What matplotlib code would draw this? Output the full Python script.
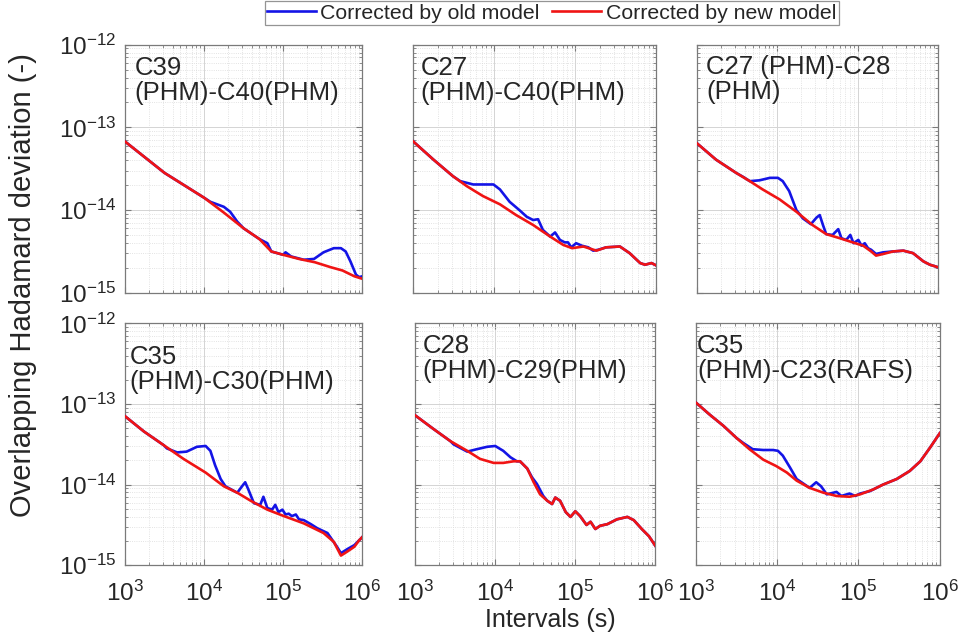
# -*- coding: utf-8 -*-
"""
Desvio de Hadamard sobreposto para seis pares de relógios BDS
Curvas corrigidas pelo modelo antigo (azul) e pelo modelo novo (vermelho)
"""

import numpy as np
import matplotlib
matplotlib.use('Agg')
import matplotlib.pyplot as plt
from matplotlib.lines import Line2D
from matplotlib.ticker import FixedLocator, NullFormatter

# Nome de cada par de satélites (um por painel)
pares = [
    'C39\n(PHM)-C40(PHM)',
    'C27\n(PHM)-C40(PHM)',
    'C27 (PHM)-C28\n(PHM)',
    'C35\n(PHM)-C30(PHM)',
    'C28\n(PHM)-C29(PHM)',
    'C35\n(PHM)-C23(RAFS)',
]

rotulos_legenda = ['Corrected by old model', 'Corrected by new model']

# Décadas marcadas nos eixos
ticks_tau = [1e3, 1e4, 1e5, 1e6]
ticks_dev = [1e-15, 1e-14, 1e-13, 1e-12]

# Todos os valores em log10: intervalo (s) e desvio (-)

# C39(PHM)-C40(PHM)
log_tau_novo_1 = [3.0, 3.5, 4.0, 4.25, 4.5, 4.7, 4.85, 5.0, 5.2, 5.4, 5.6, 5.75, 5.9, 6.0]
log_dev_novo_1 = [-13.17, -13.55, -13.85, -14.03, -14.22, -14.35, -14.50, -14.54, -14.59, -14.63, -14.69, -14.73, -14.80, -14.83]
log_tau_antigo_1 = [3.0, 3.5, 4.0, 4.08, 4.25, 4.33, 4.42, 4.5, 4.7, 4.8, 4.85, 5.0, 5.03, 5.1, 5.26,
                    5.39, 5.51, 5.64, 5.73, 5.79, 5.85, 5.92, 5.96, 6.0]
log_dev_antigo_1 = [-13.17, -13.55, -13.85, -13.90, -13.96, -14.02, -14.14, -14.22, -14.35, -14.40, -14.50, -14.54, -14.51, -14.56, -14.60,
                    -14.59, -14.51, -14.46, -14.46, -14.50, -14.62, -14.78, -14.81, -14.80]

# C27(PHM)-C40(PHM)
log_tau_novo_2 = [3.0, 3.25, 3.49, 3.66, 3.86, 4.07, 4.27, 4.48, 4.69, 4.85, 4.96, 5.10, 5.26, 5.38,
                  5.55, 5.67, 5.80, 5.86, 5.94, 6.0]
log_dev_novo_2 = [-13.17, -13.39, -13.59, -13.71, -13.83, -13.93, -14.06, -14.18, -14.32, -14.42, -14.46, -14.44, -14.49, -14.45,
                  -14.44, -14.52, -14.64, -14.66, -14.64, -14.67]
log_tau_antigo_2 = [3.0, 3.25, 3.49, 3.58, 3.74, 3.86, 3.99, 4.07, 4.19, 4.31, 4.40, 4.48, 4.54, 4.60, 4.69,
                    4.75, 4.81, 4.87, 4.91, 4.95, 5.01, 5.08, 5.16, 5.22, 5.28, 5.38, 5.55, 5.67, 5.80,
                    5.86, 5.94, 6.0]
log_dev_antigo_2 = [-13.17, -13.39, -13.59, -13.65, -13.69, -13.69, -13.69, -13.75, -13.90, -14.00, -14.08, -14.12, -14.11, -14.24, -14.32,
                    -14.27, -14.36, -14.39, -14.39, -14.45, -14.40, -14.43, -14.45, -14.49, -14.48, -14.45, -14.44, -14.52, -14.64,
                    -14.66, -14.64, -14.67]

# C27(PHM)-C28(PHM)
log_tau_novo_3 = [3.0, 3.24, 3.49, 3.66, 3.82, 4.03, 4.24, 4.44, 4.61, 4.78, 4.94, 5.07, 5.17, 5.23,
                  5.32, 5.44, 5.57, 5.69, 5.82, 5.90, 6.0]
log_dev_novo_3 = [-13.19, -13.39, -13.55, -13.65, -13.75, -13.87, -14.02, -14.18, -14.29, -14.34, -14.39, -14.43, -14.50, -14.55,
                  -14.53, -14.50, -14.49, -14.52, -14.62, -14.66, -14.69]
log_tau_antigo_3 = [3.0, 3.24, 3.49, 3.58, 3.66, 3.78, 3.91, 4.01, 4.07, 4.15, 4.24, 4.32, 4.42, 4.49, 4.53,
                    4.57, 4.61, 4.69, 4.76, 4.80, 4.86, 4.91, 4.95, 5.01, 5.05, 5.09, 5.13, 5.17, 5.23,
                    5.32, 5.44, 5.57, 5.69, 5.82, 5.90, 6.0]
log_dev_antigo_3 = [-13.19, -13.39, -13.55, -13.60, -13.65, -13.64, -13.61, -13.61, -13.65, -13.77, -14.00, -14.10, -14.17, -14.09, -14.06,
                    -14.18, -14.29, -14.30, -14.23, -14.34, -14.36, -14.30, -14.40, -14.36, -14.43, -14.40, -14.46, -14.48, -14.53,
                    -14.51, -14.50, -14.49, -14.52, -14.62, -14.66, -14.69]

# C35(PHM)-C30(PHM)
log_tau_novo_4 = [3.0, 3.24, 3.49, 3.74, 4.02, 4.25, 4.42, 4.59, 4.80, 5.01, 5.26, 5.51, 5.64, 5.73,
                  5.81, 5.90, 5.96, 6.0]
log_dev_novo_4 = [-13.15, -13.34, -13.51, -13.68, -13.85, -14.02, -14.10, -14.20, -14.31, -14.39, -14.48, -14.60, -14.71, -14.88,
                  -14.83, -14.77, -14.69, -14.65]
log_tau_antigo_4 = [3.0, 3.24, 3.49, 3.53, 3.66, 3.78, 3.91, 4.02, 4.08, 4.14, 4.21, 4.27, 4.42, 4.48, 4.52,
                    4.56, 4.63, 4.71, 4.75, 4.80, 4.86, 4.90, 4.94, 4.99, 5.03, 5.07, 5.11, 5.16, 5.20,
                    5.26, 5.35, 5.43, 5.56, 5.68, 5.73, 5.81, 5.90, 5.96, 6.0]
log_dev_antigo_4 = [-13.15, -13.34, -13.51, -13.55, -13.60, -13.59, -13.53, -13.52, -13.58, -13.76, -13.93, -14.02, -14.10, -14.02, -13.97,
                    -14.06, -14.23, -14.25, -14.15, -14.29, -14.31, -14.25, -14.34, -14.31, -14.37, -14.36, -14.39, -14.37, -14.43,
                    -14.44, -14.49, -14.54, -14.60, -14.77, -14.85, -14.80, -14.75, -14.69, -14.65]

# C28(PHM)-C29(PHM)
log_tau_novo_5 = [3.0, 3.23, 3.44, 3.65, 3.81, 3.98, 4.10, 4.23, 4.31, 4.40, 4.48, 4.56, 4.65, 4.71,
                  4.75, 4.81, 4.88, 4.94, 5.00, 5.06, 5.14, 5.19, 5.25, 5.31, 5.40, 5.52, 5.65, 5.73,
                  5.83, 5.92, 6.0]
log_dev_novo_5 = [-13.14, -13.31, -13.46, -13.58, -13.68, -13.73, -13.73, -13.71, -13.71, -13.80, -13.97, -14.12, -14.20, -14.24,
                  -14.16, -14.20, -14.34, -14.40, -14.33, -14.39, -14.50, -14.46, -14.55, -14.51, -14.49, -14.43, -14.40, -14.44,
                  -14.55, -14.64, -14.76]
log_tau_antigo_5 = [3.0, 3.23, 3.44, 3.48, 3.65, 3.77, 3.90, 4.00, 4.10, 4.19, 4.27, 4.31, 4.40, 4.46, 4.52,
                    4.60, 4.65, 4.71, 4.75, 4.81, 4.88, 4.94, 5.00, 5.06, 5.14, 5.19, 5.25, 5.31, 5.40,
                    5.52, 5.65, 5.73, 5.83, 5.92, 6.0]
log_dev_antigo_5 = [-13.14, -13.31, -13.46, -13.50, -13.59, -13.56, -13.53, -13.52, -13.58, -13.66, -13.71, -13.71, -13.80, -13.91, -13.99,
                    -14.14, -14.20, -14.24, -14.16, -14.20, -14.34, -14.40, -14.33, -14.39, -14.50, -14.46, -14.55, -14.51, -14.49,
                    -14.43, -14.40, -14.44, -14.55, -14.64, -14.76]

# C35(PHM)-C23(RAFS)
log_tau_novo_6 = [3.0, 3.17, 3.34, 3.50, 3.66, 3.83, 3.99, 4.12, 4.24, 4.40, 4.57, 4.73, 4.89, 5.02,
                  5.18, 5.30, 5.47, 5.63, 5.76, 5.88, 6.0]
log_dev_novo_6 = [-12.98, -13.13, -13.27, -13.42, -13.56, -13.69, -13.77, -13.85, -13.95, -14.04, -14.10, -14.14, -14.15, -14.12,
                  -14.06, -14.00, -13.93, -13.83, -13.71, -13.54, -13.36]
log_tau_antigo_6 = [3.0, 3.17, 3.34, 3.50, 3.58, 3.70, 3.83, 3.95, 4.01, 4.07, 4.16, 4.24, 4.40, 4.48, 4.54,
                    4.61, 4.73, 4.79, 4.89, 4.96, 5.02, 5.14, 5.18, 5.30, 5.47, 5.63, 5.76, 5.88, 6.0]
log_dev_antigo_6 = [-12.98, -13.13, -13.27, -13.42, -13.48, -13.56, -13.57, -13.57, -13.58, -13.64, -13.79, -13.93, -14.04, -13.97, -14.02,
                    -14.12, -14.09, -14.14, -14.11, -14.14, -14.11, -14.08, -14.06, -14.00, -13.93, -13.83, -13.71, -13.54, -13.36]

curvas_antigo = [
    (log_tau_antigo_1, log_dev_antigo_1),
    (log_tau_antigo_2, log_dev_antigo_2),
    (log_tau_antigo_3, log_dev_antigo_3),
    (log_tau_antigo_4, log_dev_antigo_4),
    (log_tau_antigo_5, log_dev_antigo_5),
    (log_tau_antigo_6, log_dev_antigo_6),
]
curvas_novo = [
    (log_tau_novo_1, log_dev_novo_1),
    (log_tau_novo_2, log_dev_novo_2),
    (log_tau_novo_3, log_dev_novo_3),
    (log_tau_novo_4, log_dev_novo_4),
    (log_tau_novo_5, log_dev_novo_5),
    (log_tau_novo_6, log_dev_novo_6),
]

# Posição dos painéis na figura [esquerda, baixo, largura, altura]
posicoes = [
    [0.130, 0.541, 0.247, 0.389],
    [0.430, 0.541, 0.253, 0.389],
    [0.725, 0.541, 0.251, 0.389],
    [0.130, 0.114, 0.247, 0.379],
    [0.432, 0.114, 0.250, 0.379],
    [0.724, 0.114, 0.254, 0.379],
]
# Canto do texto de cada painel (coordenadas do eixo)
pos_texto = [(0.04, 0.955), (0.03, 0.955), (0.04, 0.96), (0.02, 0.91), (0.03, 0.955), (0.005, 0.955)]

AZUL = '#1414e6'
VERMELHO = '#f01414'
CINZA = '#7a7a7a'
TEXTO = '#262626'


def configurar_estilo():
    """Fonte parecida com Arial e expoentes em texto normal"""
    plt.rcParams['font.family'] = ['Liberation Sans', 'DejaVu Sans']
    plt.rcParams['mathtext.fontset'] = 'custom'
    plt.rcParams['mathtext.rm'] = 'Liberation Sans'
    plt.rcParams['mathtext.default'] = 'regular'
    plt.rcParams['axes.unicode_minus'] = False


def desenhar_painel(ax, i):
    """Um painel log-log com as duas curvas"""
    tau_a, dev_a = curvas_antigo[i]
    tau_n, dev_n = curvas_novo[i]
    ax.plot(10.0 ** np.array(tau_a), 10.0 ** np.array(dev_a), color=AZUL, lw=1.9, zorder=3)
    ax.plot(10.0 ** np.array(tau_n), 10.0 ** np.array(dev_n), color=VERMELHO, lw=1.9, zorder=4)

    ax.set_xscale('log')
    ax.set_yscale('log')
    ax.set_xlim(ticks_tau[0], ticks_tau[-1])
    ax.set_ylim(ticks_dev[0], ticks_dev[-1])
    ax.set_xticks(ticks_tau)
    ax.set_yticks(ticks_dev)

    # subdivisões 2..9 dentro de cada década
    menores_x = [m * d for d in ticks_tau[:-1] for m in range(2, 10)]
    menores_y = [m * d for d in ticks_dev[:-1] for m in range(2, 10)]
    ax.xaxis.set_minor_locator(FixedLocator(menores_x))
    ax.yaxis.set_minor_locator(FixedLocator(menores_y))
    ax.xaxis.set_minor_formatter(NullFormatter())
    ax.yaxis.set_minor_formatter(NullFormatter())

    ax.grid(True, which='major', color='#d4d4d4', lw=0.7, ls='-')
    ax.grid(True, which='minor', color='#dadada', lw=0.6, ls=':')
    ax.set_axisbelow(True)

    for lado in ax.spines.values():
        lado.set_color(CINZA)
        lado.set_linewidth(0.9)
    ax.tick_params(which='both', direction='in', top=True, right=True, colors=CINZA,
                   labelcolor=TEXTO, labelsize=17.5)
    ax.tick_params(which='major', length=4)
    ax.tick_params(which='minor', length=2)
    ax.tick_params(axis='x', pad=11)
    ax.tick_params(axis='y', pad=6)

    linha = i // 3
    coluna = i % 3
    if coluna != 0:
        ax.tick_params(labelleft=False)
    if linha == 0:
        ax.tick_params(labelbottom=False)

    tx, ty = pos_texto[i]
    ax.text(tx, ty, pares[i], transform=ax.transAxes, ha='left', va='top',
            fontsize=18.5, color=TEXTO, linespacing=1.05, zorder=5)


def main():
    configurar_estilo()
    fig = plt.figure(figsize=(9.61, 6.38), dpi=100)

    for i, pos in enumerate(posicoes):
        ax = fig.add_axes(pos)
        desenhar_painel(ax, i)

    # Legenda única no topo da figura
    alcas = [Line2D([], [], color=AZUL, lw=1.9), Line2D([], [], color=VERMELHO, lw=1.9)]
    leg = fig.legend(alcas, rotulos_legenda, loc='upper center', bbox_to_anchor=(0.574, 0.998),
                     ncol=2, fontsize=15.3, frameon=True, fancybox=False, handlelength=2.3,
                     handletextpad=0.2, columnspacing=0.6, borderpad=0.12, borderaxespad=0.0)
    leg.get_frame().set_edgecolor(CINZA)
    leg.get_frame().set_linewidth(0.9)
    for t in leg.get_texts():
        t.set_color(TEXTO)

    fig.text(0.024, 0.553, 'Overlapping Hadamard deviation (-)', rotation=90,
             ha='center', va='center', fontsize=21, color=TEXTO)
    fig.text(0.573, 0.028, 'Intervals (s)', ha='center', va='center', fontsize=18, color=TEXTO)

    fig.savefig('out.png', dpi=100)
    print("Figura salva em out.png")


if __name__ == "__main__":
    main()
